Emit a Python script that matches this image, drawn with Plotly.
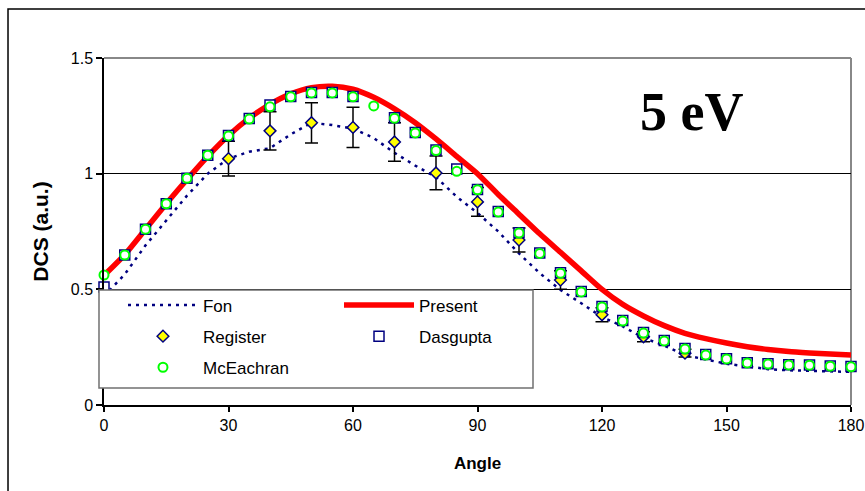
import plotly.graph_objects as go

# Angles (degrees) on a 5-degree grid
angles = list(range(0, 185, 5))

# Present calculation (smooth curve)
present = [0.56, 0.65, 0.76, 0.87, 0.975, 1.075, 1.165, 1.24, 1.30, 1.345,
           1.372, 1.378, 1.365, 1.33, 1.28, 1.22, 1.15, 1.075, 1.0, 0.91,
           0.825, 0.74, 0.66, 0.58, 0.50, 0.435, 0.385, 0.343, 0.31, 0.287,
           0.268, 0.252, 0.24, 0.231, 0.225, 0.22, 0.216]

# Fon (dotted curve)
fon = [0.47, 0.565, 0.69, 0.80, 0.905, 1.0, 1.065, 1.095, 1.11, 1.17,
       1.22, 1.21, 1.195, 1.154, 1.09, 1.035, 0.985, 0.90, 0.83, 0.75,
       0.655, 0.57, 0.497, 0.44, 0.38, 0.34, 0.29, 0.257, 0.215, 0.197,
       0.178, 0.167, 0.155, 0.15, 0.147, 0.144, 0.143]

# McEachran (every 5 degrees)
mceachran = [0.562, 0.648, 0.76, 0.87, 0.98, 1.08, 1.163, 1.236, 1.289, 1.332,
             1.349, 1.349, 1.332, 1.293, 1.24, 1.176, 1.10, 1.01, 0.93, 0.834,
             0.743, 0.655, 0.57, 0.489, 0.424, 0.363, 0.311, 0.277, 0.242, 0.216,
             0.199, 0.182, 0.177, 0.173, 0.172, 0.168, 0.165]

# Dasgupta (no point at 65 degrees)
dasgupta_angles = [a for a in angles if a != 65]
dasgupta = [0.51, 0.648, 0.76, 0.87, 0.98, 1.08, 1.165, 1.238, 1.297, 1.334,
            1.351, 1.351, 1.334, 1.242, 1.178, 1.102, 1.02, 0.932, 0.836,
            0.745, 0.657, 0.572, 0.491, 0.426, 0.365, 0.313, 0.279, 0.244, 0.218,
            0.2, 0.183, 0.178, 0.174, 0.173, 0.169, 0.166]

# Register measurements with uncertainties
register_angles = [30, 40, 50, 60, 70, 80, 90, 100, 110, 120, 130, 140]
register = [1.065, 1.185, 1.22, 1.20, 1.137, 1.003, 0.878, 0.713, 0.54, 0.39, 0.295, 0.224]
register_err = [0.075, 0.083, 0.087, 0.087, 0.083, 0.073, 0.062, 0.052, 0.04, 0.03, 0.022, 0.017]

x_ticks = [0, 30, 60, 90, 120, 150, 180]
y_ticks = [0, 0.5, 1, 1.5]

FONT = "Liberation Sans, Arial, sans-serif"
NAVY = "#000080"

fig = go.Figure()

fig.add_trace(go.Scatter(
    x=angles, y=fon, mode="lines", name="Fon",
    line=dict(color=NAVY, width=2.5, dash="3px,5px"),
    legend="legend", legendgroup="fon"))

fig.add_trace(go.Scatter(
    x=angles, y=present, mode="lines", name="Present",
    line=dict(color="#FF0000", width=5.5, shape="spline", smoothing=0.6),
    legend="legend2", legendgroup="present"))

fig.add_trace(go.Scatter(
    x=register_angles, y=register, mode="markers", name="Register",
    marker=dict(symbol="diamond", size=9, color="#FFFF00",
                line=dict(color=NAVY, width=1.5)),
    error_y=dict(type="data", array=register_err, visible=True,
                 color="black", thickness=1.5, width=6.5),
    cliponaxis=False, legend="legend", legendgroup="register"))

fig.add_trace(go.Scatter(
    x=dasgupta_angles, y=dasgupta, mode="markers", name="Dasgupta",
    marker=dict(symbol="square", size=10, color="white",
                line=dict(color=NAVY, width=1.5)),
    cliponaxis=False, legend="legend2", legendgroup="dasgupta"))

fig.add_trace(go.Scatter(
    x=angles, y=mceachran, mode="markers", name="McEachran",
    marker=dict(symbol="circle", size=9, color="white",
                line=dict(color="#00FF00", width=2)),
    cliponaxis=False, legend="legend", legendgroup="mceachran"))

legend_common = dict(
    bgcolor="rgba(0,0,0,0)", borderwidth=0,
    font=dict(family=FONT, size=17, color="black"),
    itemwidth=70, tracegroupgap=6,
    xanchor="left", yanchor="top", orientation="v",
    itemclick=False, itemdoubleclick=False)

fig.update_layout(
    width=865, height=491,
    margin=dict(l=104, r=14, t=58, b=86, autoexpand=False),
    paper_bgcolor="white", plot_bgcolor="white",
    showlegend=True,
    legend=dict(x=0.0254, y=0.3386, **legend_common),
    legend2=dict(x=0.3146, y=0.3386, **legend_common),
    xaxis=dict(
        range=[0, 180], tickvals=x_ticks, ticktext=[str(v) for v in x_ticks],
        showgrid=False, zeroline=False, automargin=False,
        showline=True, linecolor="black", linewidth=1.5,
        ticks="outside", ticklen=5, tickcolor="black", tickwidth=1.5,
        tickfont=dict(family=FONT, size=16, color="black"),
        title=dict(text="<b>Angle</b>", standoff=24,
                   font=dict(family=FONT, size=17, color="black"))),
    yaxis=dict(
        range=[0, 1.5], tickvals=y_ticks, ticktext=["0", "0.5", "1", "1.5"],
        showgrid=True, gridcolor="black", gridwidth=1, zeroline=False,
        automargin=False,
        showline=True, linecolor="black", linewidth=1.5,
        ticks="outside", ticklen=6, tickcolor="black", tickwidth=1.5,
        tickfont=dict(family=FONT, size=16, color="black"),
        title=dict(text="<b>DCS (a.u.)</b>", standoff=16,
                   font=dict(family=FONT, size=21, color="black"))),
    shapes=[
        # outer chart frame
        dict(type="rect", xref="paper", yref="paper",
             x0=-0.1285, x1=1.04, y0=-0.28, y1=1.1412,
             line=dict(color="black", width=1.5), fillcolor="rgba(0,0,0,0)",
             layer="below"),
        # plot-area border, top and right edges
        dict(type="line", xref="paper", yref="paper", x0=0, x1=1, y0=1, y1=1,
             line=dict(color="#888888", width=2), layer="above"),
        dict(type="line", xref="paper", yref="paper", x0=1, x1=1, y0=0, y1=1,
             line=dict(color="#888888", width=2), layer="below"),
        # legend box
        dict(type="rect", xref="paper", yref="paper",
             x0=-0.0067, x1=0.5743, y0=0.049, y1=0.3314,
             line=dict(color="#707070", width=1.5), fillcolor="white",
             layer="above"),
    ],
    annotations=[
        dict(text="<b>5 eV</b>", xref="paper", yref="paper",
             x=0.787, y=0.845, xanchor="center", yanchor="middle",
             showarrow=False,
             font=dict(family="Liberation Serif, Times New Roman, serif",
                       size=54, color="black")),
    ],
)

fig.write_html("out.html")
